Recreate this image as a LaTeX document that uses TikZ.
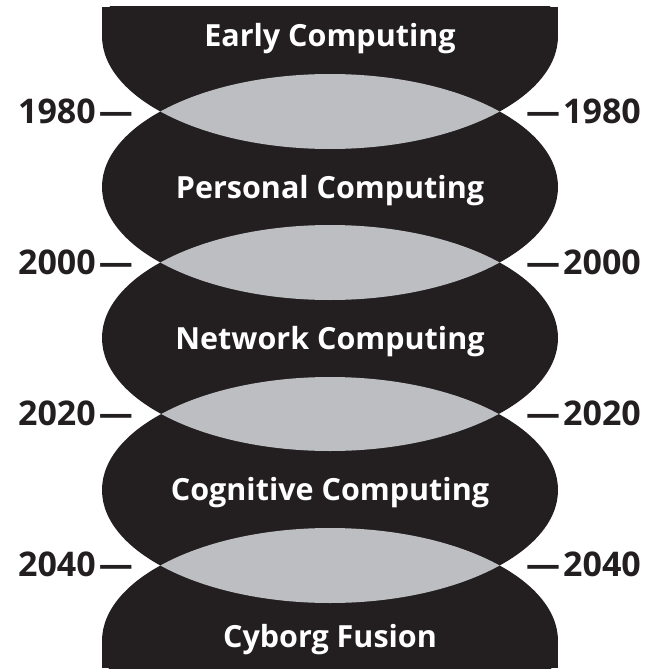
\documentclass[tikz,border=0pt]{standalone}
\usepackage{fontspec}
\setmainfont{Open Sans}
\definecolor{ink}{RGB}{35,31,32}
\definecolor{lens}{RGB}{188,190,193}
\begin{document}
\begin{tikzpicture}[x=1pt,y=-1pt,
  era/.style={text=white,font=\bfseries\fontsize{30.5}{32}\selectfont,anchor=base,inner sep=0pt},
  yearL/.style={text=ink,font=\bfseries\fontsize{34}{36}\selectfont,anchor=base east,inner sep=0pt},
  yearR/.style={text=ink,font=\bfseries\fontsize{34}{36}\selectfont,anchor=base west,inner sep=0pt}]
\useasboundingbox (0,0) rectangle (653,669);
\def\ea{228pt}\def\eb{113pt}
% black body
\begin{scope}
  \clip (0,7) rectangle (653,668);
  \fill[ink] (102,7) rectangle (558,36);
  \fill[ink] (102,641) rectangle (558,668);
  \foreach \c in {36,187,338,490,641}{
    \fill[ink] (330,\c) ellipse [x radius=\ea, y radius=\eb];
  }
\end{scope}
% lenses
\foreach \c/\d in {36/187,187/338,338/490,490/641}{
  \begin{scope}
    \clip (330,\c) ellipse [x radius=\ea, y radius=\eb];
    \fill[lens] (330,\d) ellipse [x radius=\ea, y radius=\eb];
  \end{scope}
}
% era titles
\node[era] (early) at (330,47) {Early Computing};
\node[era] (personal) at (330,198) {Personal Computing};
\node[era] (network) at (330,349) {Network Computing};
\node[era] (cognitive) at (330,500) {Cognitive Computing};
\node[era] (cyborg) at (330,647) {Cyborg Fusion};
% year labels
\node[yearL] (l1980) at (133,123) {1980\kern3pt—};
\node[yearR] (r1980) at (526,123) {—\kern3pt1980};
\node[yearL] (l2000) at (133,274) {2000\kern3pt—};
\node[yearR] (r2000) at (526,274) {—\kern3pt2000};
\node[yearL] (l2020) at (133,425.5) {2020\kern3pt—};
\node[yearR] (r2020) at (526,425.5) {—\kern3pt2020};
\node[yearL] (l2040) at (133,576.5) {2040\kern3pt—};
\node[yearR] (r2040) at (526,576.5) {—\kern3pt2040};
\end{tikzpicture}
\end{document}
